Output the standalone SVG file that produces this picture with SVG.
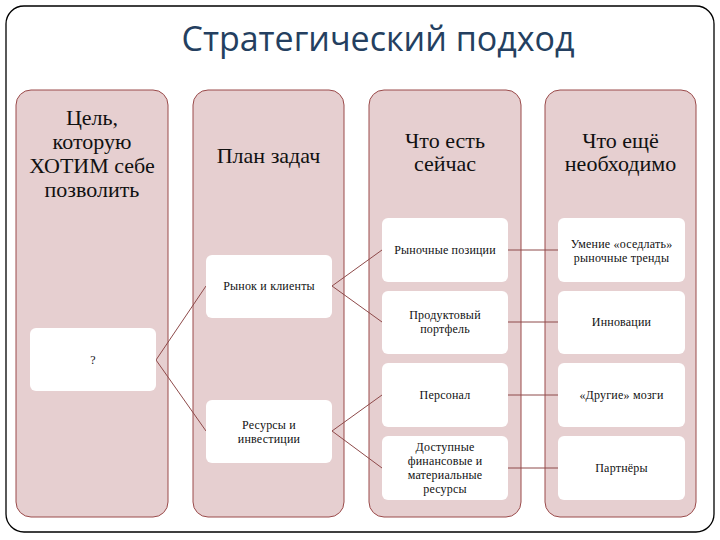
<svg xmlns="http://www.w3.org/2000/svg" width="720" height="540" viewBox="0 0 720 540">
<style>
.frame{fill:#fff;stroke:#000;stroke-width:1.3}
.col{fill:#E6CFD0;stroke:#9A4A4A;stroke-width:1}
.box{fill:#fff;stroke:none}
.title{font-family:"Open Sans","Liberation Sans",sans-serif;font-size:34px;fill:#243F60;text-anchor:middle}
.hdr{font-family:"Liberation Serif","DejaVu Serif",serif;font-size:22px;fill:#111;text-anchor:middle}
.lbl{font-family:"Liberation Serif","DejaVu Serif",serif;font-size:12px;fill:#111;text-anchor:middle;letter-spacing:0.2px}
.conn line,.conn polyline{stroke:#8E4A4A;stroke-width:1;fill:none}
</style>
<rect class="frame" x="6" y="6" width="708" height="526" rx="18"/>
<text class="title" x="378" y="51">Стратегический подход</text>

<g id="col1">
<rect class="col" x="16" y="90" width="152" height="427" rx="15"/>
<text class="hdr" x="92" y="125">Цель,</text>
<text class="hdr" x="92" y="149">которую</text>
<text class="hdr" x="92" y="173">ХОТИМ себе</text>
<text class="hdr" x="92" y="197">позволить</text>
</g>
<g id="col2">
<rect class="col" x="193" y="90" width="151" height="427" rx="15"/>
<text class="hdr" x="268.5" y="163">План задач</text>
</g>
<g id="col3">
<rect class="col" x="369" y="90" width="152" height="427" rx="15"/>
<text class="hdr" x="445" y="148">Что есть</text>
<text class="hdr" x="445" y="171">сейчас</text>
</g>
<g id="col4">
<rect class="col" x="545" y="90" width="151" height="427" rx="15"/>
<text class="hdr" x="620.5" y="148">Что ещё</text>
<text class="hdr" x="620.5" y="171">необходимо</text>
</g>

<g class="conn" id="connectors">
<polyline points="206,286 156,360 206,431"/>
<polyline points="382,250 332,286 382,322"/>
<polyline points="382,395 332,431 382,468"/>
<line x1="508" y1="250" x2="558" y2="250"/>
<line x1="508" y1="322" x2="558" y2="322"/>
<line x1="508" y1="395" x2="558" y2="395"/>
<line x1="508" y1="468" x2="558" y2="468"/>
</g>

<g id="goal">
<rect class="box" x="30" y="328" width="126" height="63" rx="6"/>
<text class="lbl" x="93" y="364">?</text>
</g>
<g id="markets">
<rect class="box" x="206" y="255" width="126" height="63" rx="6"/>
<text class="lbl" x="269" y="290">Рынок и клиенты</text>
</g>
<g id="resources">
<rect class="box" x="206" y="400" width="126" height="63" rx="6"/>
<text class="lbl" x="269" y="429">Ресурсы и</text>
<text class="lbl" x="269" y="443">инвестиции</text>
</g>

<g id="market-positions">
<rect class="box" x="382" y="218" width="126" height="64" rx="6"/>
<text class="lbl" x="445" y="254">Рыночные позиции</text>
</g>
<g id="portfolio">
<rect class="box" x="382" y="291" width="126" height="63" rx="6"/>
<text class="lbl" x="445" y="319">Продуктовый</text>
<text class="lbl" x="445" y="333">портфель</text>
</g>
<g id="staff">
<rect class="box" x="382" y="363" width="126" height="64" rx="6"/>
<text class="lbl" x="445" y="399">Персонал</text>
</g>
<g id="finance">
<rect class="box" x="382" y="436" width="126" height="64" rx="6"/>
<text class="lbl" x="445" y="451">Доступные</text>
<text class="lbl" x="445" y="465">финансовые и</text>
<text class="lbl" x="445" y="479">материальные</text>
<text class="lbl" x="445" y="493">ресурсы</text>
</g>

<g id="trends">
<rect class="box" x="558" y="218" width="127" height="64" rx="6"/>
<text class="lbl" x="621.5" y="248">Умение «оседлать»</text>
<text class="lbl" x="621.5" y="262">рыночные тренды</text>
</g>
<g id="innovation">
<rect class="box" x="558" y="291" width="127" height="63" rx="6"/>
<text class="lbl" x="621.5" y="326">Инновации</text>
</g>
<g id="brains">
<rect class="box" x="558" y="363" width="127" height="64" rx="6"/>
<text class="lbl" x="621.5" y="399">«Другие» мозги</text>
</g>
<g id="partners">
<rect class="box" x="558" y="436" width="127" height="64" rx="6"/>
<text class="lbl" x="621.5" y="472">Партнёры</text>
</g>
</svg>
